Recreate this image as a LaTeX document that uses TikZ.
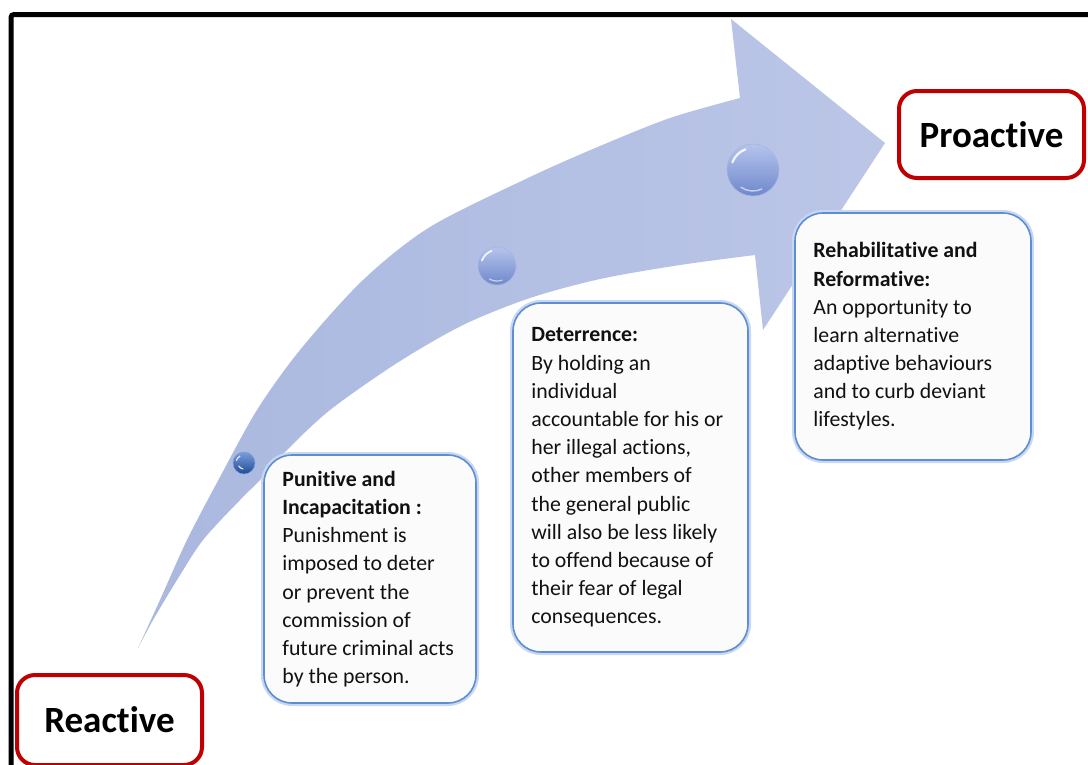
\documentclass[tikz,border=0pt]{standalone}
\usepackage{fontspec}
\setmainfont{Carlito}[Ligatures={NoCommon}]
\definecolor{boxfill}{HTML}{FBFBFB}
\definecolor{boxline}{HTML}{5F8DD3}
\definecolor{boxglow}{HTML}{C9D8F2}
\definecolor{redline}{HTML}{C00000}
\definecolor{txt}{HTML}{111111}
\definecolor{arrowL}{HTML}{AAB8DF}
\definecolor{arrowR}{HTML}{BBC6E7}
\definecolor{ballTop}{HTML}{B5C4EC}
\definecolor{ballBot}{HTML}{6F88CC}
\definecolor{ballEdge}{HTML}{A3B5E3}
\definecolor{sballTop}{HTML}{7A9DDA}
\definecolor{sballBot}{HTML}{1F4C98}
\begin{document}
\begin{tikzpicture}[x=1pt,y=-1pt,
  infobox/.style={rounded corners=28pt, fill=boxfill, draw=boxline, line width=1.6pt,
    preaction={draw=boxglow, line width=6pt}, inner sep=0pt},
  infotext/.style={anchor=west, align=left, inner sep=0pt,
    font=\fontsize{21.8}{28.2}\selectfont, text=txt},
  redbox/.style={rounded corners=18pt, fill=white, draw=redline, line width=4pt,
    inner sep=0pt, font=\bfseries\fontsize{37}{44}\selectfont, text=black},
  ballhi/.style={white, line width=1.8pt, opacity=0.85, line cap=round}
]
\useasboundingbox (0,0) rectangle (1088,764);
\clip (0,0) rectangle (1088,764);
\fill[white] (0,0) rectangle (1088,764);
% frame
\draw[line width=5pt, rounded corners=3pt] (11,800) -- (11,14.5) -- (1120,14.5);
% curved arrow
\shade[left color=arrowL, right color=arrowR] (138,648)
  -- plot[smooth, tension=0.5] coordinates {(138,648) (160,600) (187,540) (220,477) (257,410) (300,350) (363,280) (430,227) (530,177) (600,146) (670,118) (740,98)}
  -- (731,19) -- (885,143) -- (763,330) -- (755,255)
  -- plot[smooth, tension=0.5] coordinates {(755,255) (680,265) (600,279) (530,298) (463,325) (397,363) (330,410) (287,450) (260,480) (240,500) (203,540) (177,580) (153,620) (138,648)}
  -- cycle;
% spheres
\shade[top color=sballTop, bottom color=sballBot, draw=sballTop, line width=0.5pt] (244,463) circle[radius=11pt];
\draw[ballhi, line width=1.2pt] ([shift={(150:6)}]244,463) arc[start angle=150, end angle=100, radius=6];
\draw[ballhi, line width=1.2pt] ([shift={(200:8)}]244,463) arc[start angle=200, end angle=240, radius=8];
\shade[top color=ballTop, bottom color=ballBot, draw=ballEdge, line width=0.6pt] (497,266) circle[radius=19pt];
\draw[ballhi] ([shift={(200:16)}]497,266) arc[start angle=200, end angle=250, radius=16];
\draw[ballhi, line width=1.2pt, opacity=0.6] ([shift={(120:15)}]497,266) arc[start angle=120, end angle=70, radius=15];
\shade[top color=ballTop, bottom color=ballBot, draw=ballEdge, line width=0.6pt] (753,170) circle[radius=26pt];
\draw[ballhi, line width=2.2pt] ([shift={(200:22)}]753,170) arc[start angle=200, end angle=250, radius=22];
\draw[ballhi, line width=1.4pt, opacity=0.6] ([shift={(125:21)}]753,170) arc[start angle=125, end angle=65, radius=21];
% info boxes
\node[infobox, minimum width=212pt, minimum height=248pt] (pun) at (370,579) {};
\node[infotext] (punT) at ([xshift=19pt]pun.west)
  {\textbf{Punitive and}\\\textbf{Incapacitation :}\\Punishment is\\imposed to deter\\or prevent the\\commission of\\future criminal acts\\by the person.};
\node[infobox, minimum width=235pt, minimum height=349pt] (det) at (630.5,477.5) {};
\node[infotext] (detT) at ([xshift=19pt]det.west)
  {\textbf{Deterrence:}\\By holding an\\individual\\accountable for his or\\her illegal actions,\\other members of\\the general public\\will also be less likely\\to offend because of\\their fear of legal\\consequences.};
\node[infobox, minimum width=236pt, minimum height=247pt] (reh) at (913,336.5) {};
\node[infotext] (rehT) at ([xshift=19pt]reh.west)
  {\textbf{Rehabilitative and}\\\textbf{Reformative:}\\An opportunity to\\learn alternative\\adaptive behaviours\\and to curb deviant\\lifestyles.};
% red labels
\node[redbox, minimum width=185pt, minimum height=87pt] (pro) at (991.5,134.5) {Proactive};
\node[redbox, minimum width=185pt, minimum height=90pt] (rea) at (109.5,720) {Reactive};
\end{tikzpicture}
\end{document}
